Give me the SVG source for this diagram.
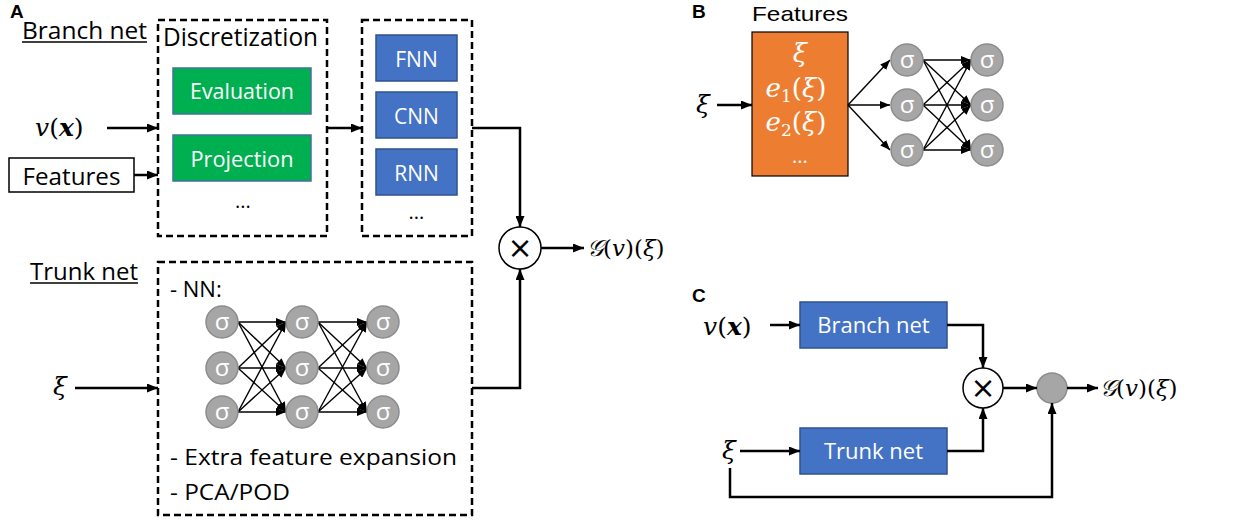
<svg xmlns="http://www.w3.org/2000/svg" width="1250" height="522" viewBox="0 0 1250 522">
<style>
.t{font-family:"Open Sans","Noto Sans","Liberation Sans",sans-serif;fill:#000}
.w{fill:#fff}
.lbl{font-family:"Liberation Sans","Open Sans",sans-serif;font-weight:bold;font-size:19px;fill:#000}
.m{font-family:"DejaVu Serif","Liberation Serif",serif;font-style:italic;fill:#000}
.mw{fill:#fff}
.dash{fill:none;stroke:#000;stroke-width:2.5;stroke-dasharray:7 4}
.green{fill:#00B050;stroke:#41719C;stroke-width:1.5}
.blue{fill:#4472C4;stroke:#2F528F;stroke-width:1.5}
.neu{fill:#A6A6A6;stroke:#8C8C8C;stroke-width:1.5}
.sig{font-family:"Open Sans","Noto Sans","Liberation Sans",sans-serif;font-size:24px;fill:#fff;text-anchor:middle}
.x{font-family:"DejaVu Sans","Liberation Sans",sans-serif;font-size:30px;fill:#000;text-anchor:middle}
.c{fill:none;stroke:#000;stroke-width:2.5}
.cs{fill:none;stroke:#000;stroke-width:1.4}
</style>
<defs>
<marker id="arr" viewBox="0 0 10 10" refX="10" refY="5" markerWidth="11" markerHeight="9" preserveAspectRatio="none" orient="auto" markerUnits="userSpaceOnUse"><path d="M0,0 L10,5 L0,10 z" fill="#000"/></marker>
<marker id="arrs" viewBox="0 0 10 10" refX="10" refY="5" markerWidth="10" markerHeight="8" preserveAspectRatio="none" orient="auto" markerUnits="userSpaceOnUse"><path d="M0,0 L10,5 L0,10 z" fill="#000"/></marker>
</defs>

<!-- Panel A -->
<g id="labelA"><text class="lbl" x="10" y="18">A</text></g>
<g id="branch-title">
<text class="t" x="22" y="39" font-size="24" textLength="125" lengthAdjust="spacingAndGlyphs">Branch net</text>
<line x1="22" y1="42" x2="147" y2="42" stroke="#000" stroke-width="1.5"/>
</g>
<g id="input-v">
<text class="m" x="35" y="136" font-size="25">v<tspan font-style="normal">(</tspan><tspan font-weight="bold">x</tspan><tspan font-style="normal">)</tspan></text>
</g>
<g id="features-box">
<rect x="9" y="158" width="125" height="34" fill="#fff" stroke="#000" stroke-width="1.5"/>
<text class="t" x="71.5" y="185" font-size="23" text-anchor="middle" textLength="98" lengthAdjust="spacingAndGlyphs">Features</text>
</g>
<g id="discretization">
<rect class="dash" x="158" y="20" width="169" height="216"/>
<text class="t" x="163" y="46" font-size="25" textLength="155" lengthAdjust="spacingAndGlyphs">Discretization</text>
<g id="evaluation">
<rect class="green" x="173" y="68" width="138" height="46"/>
<text class="t w" x="242" y="99" font-size="21" text-anchor="middle" textLength="104" lengthAdjust="spacingAndGlyphs">Evaluation</text>
</g>
<g id="projection">
<rect class="green" x="173" y="135" width="138" height="46"/>
<text class="t w" x="242" y="167" font-size="21" text-anchor="middle" textLength="103" lengthAdjust="spacingAndGlyphs">Projection</text>
</g>
<text class="t" x="243" y="208" font-size="20" text-anchor="middle">...</text>
</g>
<g id="nn-types">
<rect class="dash" x="362" y="20" width="110" height="216"/>
<g id="fnn"><rect class="blue" x="376" y="35" width="81" height="46"/>
<text class="t w" x="416.5" y="67" font-size="21" text-anchor="middle">FNN</text></g>
<g id="cnn"><rect class="blue" x="376" y="92" width="81" height="46"/>
<text class="t w" x="416.5" y="124" font-size="21" text-anchor="middle">CNN</text></g>
<g id="rnn"><rect class="blue" x="376" y="149" width="81" height="46"/>
<text class="t w" x="416.5" y="181" font-size="21" text-anchor="middle">RNN</text></g>
<text class="t" x="416.5" y="219" font-size="20" text-anchor="middle">...</text>
</g>
<g id="trunk-title">
<text class="t" x="30" y="280" font-size="24" textLength="108" lengthAdjust="spacingAndGlyphs">Trunk net</text>
<line x1="30" y1="283" x2="138" y2="283" stroke="#000" stroke-width="1.5"/>
</g>
<g id="input-xi-A"><text class="m" x="53" y="395" font-size="25">ξ</text></g>
<g id="trunk-box">
<rect class="dash" x="158" y="262" width="314" height="253"/>
<text class="t" x="170" y="297" font-size="22">- NN:</text>
<text class="t" x="170" y="465" font-size="22" textLength="287" lengthAdjust="spacingAndGlyphs">- Extra feature expansion</text>
<text class="t" x="170" y="500" font-size="22" textLength="120" lengthAdjust="spacingAndGlyphs">- PCA/POD</text>
<g id="trunk-nn">
<g class="cs" marker-end="url(#arrs)">
<line x1="238" y1="322" x2="286" y2="322"/><line x1="238" y1="322" x2="286" y2="368"/><line x1="238" y1="322" x2="286" y2="412"/>
<line x1="238" y1="368" x2="286" y2="322"/><line x1="238" y1="368" x2="286" y2="368"/><line x1="238" y1="368" x2="286" y2="412"/>
<line x1="238" y1="412" x2="286" y2="322"/><line x1="238" y1="412" x2="286" y2="368"/><line x1="238" y1="412" x2="286" y2="412"/>
<line x1="318" y1="322" x2="367" y2="322"/><line x1="318" y1="322" x2="367" y2="368"/><line x1="318" y1="322" x2="367" y2="412"/>
<line x1="318" y1="368" x2="367" y2="322"/><line x1="318" y1="368" x2="367" y2="368"/><line x1="318" y1="368" x2="367" y2="412"/>
<line x1="318" y1="412" x2="367" y2="322"/><line x1="318" y1="412" x2="367" y2="368"/><line x1="318" y1="412" x2="367" y2="412"/>
</g>
<g>
<circle class="neu" cx="222" cy="322" r="16"/><circle class="neu" cx="222" cy="368" r="16"/><circle class="neu" cx="222" cy="412" r="16"/>
<circle class="neu" cx="302" cy="322" r="16"/><circle class="neu" cx="302" cy="368" r="16"/><circle class="neu" cx="302" cy="412" r="16"/>
<circle class="neu" cx="383" cy="322" r="16"/><circle class="neu" cx="383" cy="368" r="16"/><circle class="neu" cx="383" cy="412" r="16"/>
<text class="sig" x="222" y="330">σ</text><text class="sig" x="222" y="376">σ</text><text class="sig" x="222" y="420">σ</text>
<text class="sig" x="302" y="330">σ</text><text class="sig" x="302" y="376">σ</text><text class="sig" x="302" y="420">σ</text>
<text class="sig" x="383" y="330">σ</text><text class="sig" x="383" y="376">σ</text><text class="sig" x="383" y="420">σ</text>
</g>
</g>
</g>
<g id="times-A">
<circle cx="520" cy="248" r="21" fill="#fff" stroke="#000" stroke-width="1.5"/>
<text class="x" x="520" y="258">×</text>
</g>
<g id="output-A"><text class="m" x="587" y="256" font-size="23">𝒢<tspan font-style="normal">(</tspan>v<tspan font-style="normal">)(</tspan>ξ<tspan font-style="normal">)</tspan></text></g>

<!-- Panel B -->
<g id="labelB"><text class="lbl" x="692" y="18">B</text></g>
<g id="features-B">
<text class="t" x="752" y="21" font-size="21" style="font-family:'Liberation Sans','Open Sans',sans-serif" textLength="96" lengthAdjust="spacingAndGlyphs">Features</text>
<rect x="752" y="32" width="96" height="144" fill="#ED7D31" stroke="#000" stroke-width="1.2"/>
<text class="m mw" x="800" y="62" font-size="26" text-anchor="middle">ξ</text>
<text class="m mw" x="796" y="97" font-size="26" text-anchor="middle">e<tspan font-size="17" font-style="normal" dy="5">1</tspan><tspan font-style="normal" dy="-5">(</tspan>ξ<tspan font-style="normal">)</tspan></text>
<text class="m mw" x="796" y="131" font-size="26" text-anchor="middle">e<tspan font-size="17" font-style="normal" dy="5">2</tspan><tspan font-style="normal" dy="-5">(</tspan>ξ<tspan font-style="normal">)</tspan></text>
<text class="t w" x="800" y="163" font-size="20" text-anchor="middle">...</text>
</g>
<g id="input-xi-B"><text class="m" x="696" y="113" font-size="25">ξ</text></g>
<g id="nn-B">
<g class="cs" marker-end="url(#arrs)">
<line x1="848" y1="105" x2="890" y2="60"/><line x1="848" y1="105" x2="890" y2="105"/><line x1="848" y1="105" x2="890" y2="150"/>
<line x1="923" y1="60" x2="971" y2="60"/><line x1="923" y1="60" x2="971" y2="105"/><line x1="923" y1="60" x2="971" y2="150"/>
<line x1="923" y1="105" x2="971" y2="60"/><line x1="923" y1="105" x2="971" y2="105"/><line x1="923" y1="105" x2="971" y2="150"/>
<line x1="923" y1="150" x2="971" y2="60"/><line x1="923" y1="150" x2="971" y2="105"/><line x1="923" y1="150" x2="971" y2="150"/>
</g>
<circle class="neu" cx="907" cy="60" r="16"/><circle class="neu" cx="907" cy="105" r="16"/><circle class="neu" cx="907" cy="150" r="16"/>
<circle class="neu" cx="987" cy="60" r="16"/><circle class="neu" cx="987" cy="105" r="16"/><circle class="neu" cx="987" cy="150" r="16"/>
<text class="sig" x="907" y="68">σ</text><text class="sig" x="907" y="113">σ</text><text class="sig" x="907" y="158">σ</text>
<text class="sig" x="987" y="68">σ</text><text class="sig" x="987" y="113">σ</text><text class="sig" x="987" y="158">σ</text>
</g>

<!-- Panel C -->
<g id="labelC"><text class="lbl" x="692" y="302">C</text></g>
<g id="input-v-C"><text class="m" x="703" y="335" font-size="25">v<tspan font-style="normal">(</tspan><tspan font-weight="bold">x</tspan><tspan font-style="normal">)</tspan></text></g>
<g id="branch-C"><rect class="blue" x="800" y="302" width="147" height="46"/>
<text class="t w" x="873.5" y="333" font-size="22" text-anchor="middle">Branch net</text></g>
<g id="trunk-C"><rect class="blue" x="800" y="428" width="147" height="46"/>
<text class="t w" x="873.5" y="459" font-size="22" text-anchor="middle">Trunk net</text></g>
<g id="input-xi-C"><text class="m" x="722" y="459" font-size="25">ξ</text></g>
<g id="times-C">
<circle cx="983" cy="388" r="20" fill="#fff" stroke="#000" stroke-width="1.5"/>
<text class="x" x="983" y="398">×</text>
</g>
<g id="bias-C"><circle class="neu" cx="1052" cy="388" r="15"/></g>
<g id="output-C"><text class="m" x="1100" y="396" font-size="23">𝒢<tspan font-style="normal">(</tspan>v<tspan font-style="normal">)(</tspan>ξ<tspan font-style="normal">)</tspan></text></g>

<g id="connectors" class="c" marker-end="url(#arr)">
<line x1="107" y1="128" x2="158" y2="128"/>
<line x1="134" y1="175" x2="158" y2="175"/>
<line x1="327" y1="128" x2="362" y2="128"/>
<path d="M472,128 H520 V227"/>
<path d="M472,388 H520 V269"/>
<line x1="541" y1="248" x2="584" y2="248"/>
<line x1="75" y1="388" x2="158" y2="388"/>
<line x1="717" y1="105" x2="752" y2="105"/>
<line x1="770" y1="325" x2="800" y2="325"/>
<path d="M947,325 H983 V368"/>
<line x1="740" y1="451" x2="800" y2="451"/>
<path d="M947,451 H983 V408"/>
<line x1="1003" y1="388" x2="1037" y2="388"/>
<line x1="1067" y1="388" x2="1098" y2="388"/>
<path d="M730,468 V497 H1052 V403"/>
</g>
</svg>
